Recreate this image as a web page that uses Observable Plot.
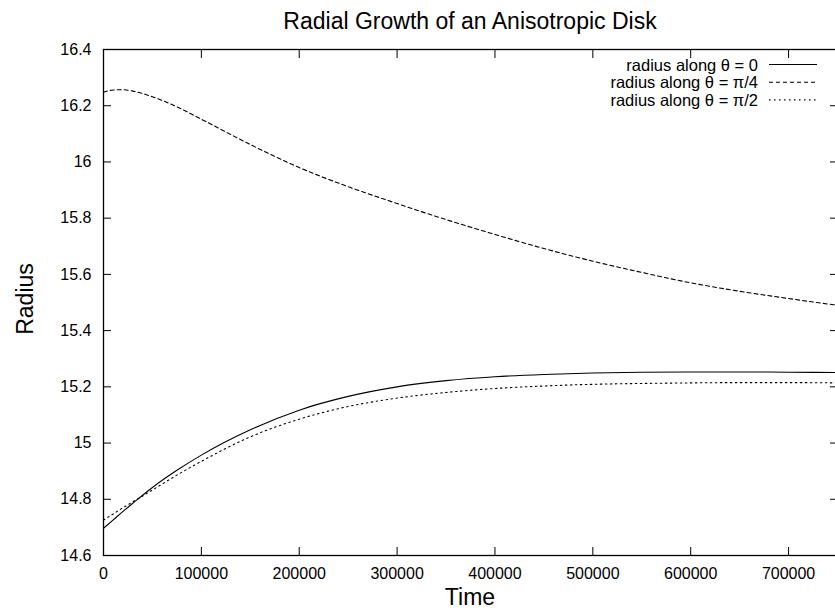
<!DOCTYPE html>
<html>
<head>
<meta charset="utf-8">
<script src="https://cdn.jsdelivr.net/npm/d3@7"></script>
<script src="https://cdn.jsdelivr.net/npm/@observablehq/plot@0.6"></script>
<style>
  html, body { margin: 0; padding: 0; background: #fff; overflow: hidden; }
  #chart svg { display: block; }
</style>
</head>
<body>
<div id="chart"></div>
<script>
const titleText = "Radial Growth of an Anisotropic Disk";
const xLabel = "Time";
const yLabel = "Radius";
const time = [0, 10000, 20000, 30000, 50000, 75000, 100000, 150000, 200000, 250000, 300000, 350000, 400000, 450000, 500000, 550000, 600000, 650000, 700000, 750000];
const radiusTheta0 = [14.697, 14.727, 14.757, 14.786, 14.842, 14.903, 14.957, 15.047, 15.117, 15.166, 15.200, 15.222, 15.236, 15.244, 15.249, 15.252, 15.253, 15.253, 15.252, 15.251];
const radiusThetaPi4 = [16.248, 16.256, 16.257, 16.252, 16.232, 16.196, 16.152, 16.062, 15.980, 15.912, 15.852, 15.795, 15.742, 15.692, 15.647, 15.607, 15.570, 15.540, 15.514, 15.490];
const radiusThetaPi2 = [14.726, 14.748, 14.770, 14.791, 14.833, 14.886, 14.935, 15.022, 15.085, 15.130, 15.160, 15.180, 15.194, 15.203, 15.209, 15.212, 15.214, 15.215, 15.215, 15.214];
const seriesNames = ["radius along θ = 0", "radius along θ = π/4", "radius along θ = π/2"];
const seriesDash = [null, "4,3", "1.5,3.5"];
const xTicks = [0, 100000, 200000, 300000, 400000, 500000, 600000, 700000];
const yTicks = [14.6, 14.8, 15, 15.2, 15.4, 15.6, 15.8, 16, 16.2, 16.4];

const seriesValues = [radiusTheta0, radiusThetaPi4, radiusThetaPi2];
const rows = [];
seriesValues.forEach((vals, s) => vals.forEach((v, i) => rows.push({t: time[i], r: v, s})));

const W = 835, H = 612;
const mL = 103, mT = 49, mB = 57, mR = -2;
const font = "'Liberation Sans', Arial, Helvetica, sans-serif";

const marks = [];
seriesValues.forEach((vals, s) => {
  marks.push(Plot.line(rows.filter(d => d.s === s), {
    x: "t", y: "r", curve: "monotone-x",
    stroke: "#000", strokeWidth: 1.1,
    strokeDasharray: seriesDash[s] || undefined
  }));
});
// inward ticks on all sides
marks.push(Plot.axisY(yTicks, {anchor: "left", label: null, tickSize: 8, dx: 8, tickFormat: () => "", stroke: "#000"}));
marks.push(Plot.axisY(yTicks, {anchor: "right", label: null, tickSize: 8, dx: -8, tickFormat: () => "", stroke: "#000"}));
marks.push(Plot.axisX(xTicks, {anchor: "bottom", label: null, tickSize: 8, dy: -8, tickFormat: () => "", stroke: "#000"}));
marks.push(Plot.axisX(xTicks, {anchor: "top", label: null, tickSize: 8, dy: 8, tickFormat: () => "", stroke: "#000"}));
// tick labels
marks.push(Plot.axisY(yTicks, {anchor: "left", label: null, tickSize: 0, tickPadding: 12, tickFormat: d => String(+d.toFixed(1)), fontSize: 16, fill: "#000"}));
marks.push(Plot.axisX(xTicks, {anchor: "bottom", label: null, tickSize: 0, tickPadding: 12, tickFormat: d => String(d), fontSize: 16, fill: "#000"}));
marks.push(Plot.frame({stroke: "#000", strokeWidth: 1.3}));

const chart = Plot.plot({
  width: W, height: H,
  marginLeft: mL, marginTop: mT, marginBottom: mB, marginRight: mR,
  style: {fontFamily: font, fontSize: "16px", color: "#000", background: "#fff", overflow: "visible"},
  x: {domain: [0, 750000], axis: null},
  y: {domain: [14.6, 16.4], axis: null},
  marks
});

const svg = d3.select(chart);
svg.append("text").attr("x", (mL + W - mR) / 2).attr("y", 29).attr("text-anchor", "middle")
  .attr("font-size", 23).attr("font-family", font).attr("fill", "#000").text(titleText);
svg.append("text").attr("x", (mL + W - mR) / 2).attr("y", 605).attr("text-anchor", "middle")
  .attr("font-size", 23).attr("font-family", font).attr("fill", "#000").text(xLabel);
svg.append("text").attr("transform", `translate(33,${(mT + H - mB) / 2 - 3}) rotate(-90)`).attr("text-anchor", "middle")
  .attr("font-size", 23).attr("font-family", font).attr("fill", "#000").text(yLabel);

const leg = svg.append("g");
seriesNames.forEach((name, i) => {
  const y = 64.5 + i * 17.7;
  leg.append("text").attr("x", 758).attr("y", y + 6).attr("text-anchor", "end")
    .attr("font-size", 16.5).attr("font-family", font).attr("fill", "#000").text(name);
  leg.append("line").attr("x1", 769).attr("x2", 817).attr("y1", y).attr("y2", y)
    .attr("stroke", "#000").attr("stroke-width", 1.1)
    .attr("stroke-dasharray", seriesDash[i]);
});

document.getElementById("chart").appendChild(chart);
</script>
</body>
</html>
